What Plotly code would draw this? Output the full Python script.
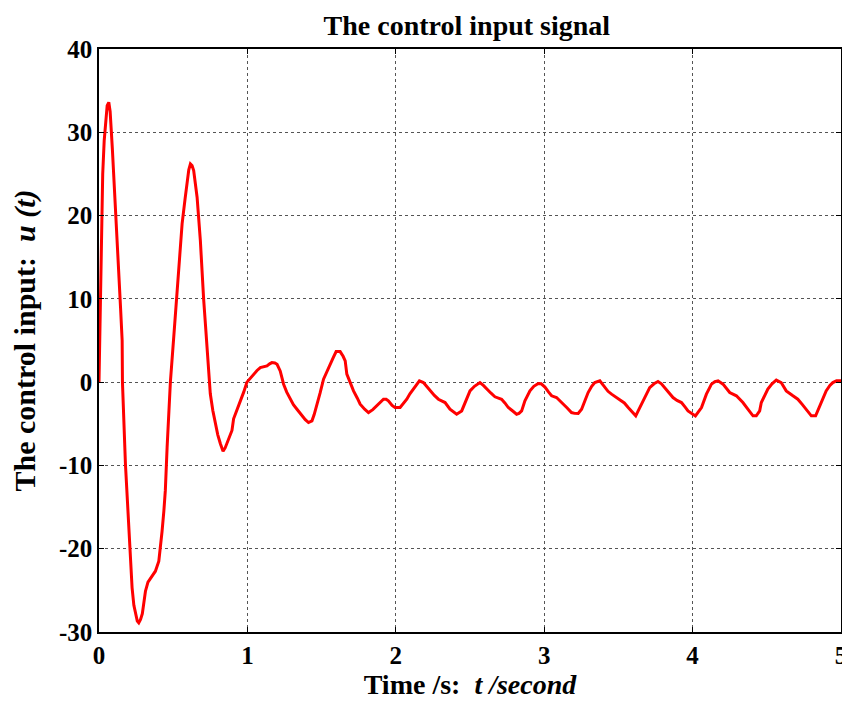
import plotly.graph_objects as go

t = [0.000, 0.005, 0.010, 0.017, 0.025, 0.035, 0.045, 0.055, 0.066, 0.075, 0.090, 0.112, 0.130, 0.145,
     0.156, 0.158, 0.178, 0.200, 0.212, 0.223, 0.235, 0.246, 0.258, 0.268, 0.280, 0.292, 0.302, 0.313,
     0.330, 0.347, 0.365, 0.380, 0.403, 0.415, 0.425, 0.437, 0.447, 0.459, 0.470, 0.481, 0.504, 0.520,
     0.537, 0.560, 0.580, 0.594, 0.605, 0.616, 0.627, 0.638, 0.650, 0.661, 0.683, 0.694, 0.705, 0.717,
     0.728, 0.739, 0.750, 0.767, 0.784, 0.800, 0.818, 0.836, 0.850, 0.862, 0.880, 0.896, 0.907, 0.925,
     0.941, 0.960, 0.975, 0.997, 1.020, 1.042, 1.065, 1.087, 1.110, 1.132, 1.150, 1.165, 1.185, 1.200,
     1.221, 1.244, 1.265, 1.289, 1.310, 1.334, 1.367, 1.390, 1.412, 1.435, 1.450, 1.468, 1.490, 1.513,
     1.535, 1.558, 1.580, 1.598, 1.625, 1.645, 1.659, 1.670, 1.690, 1.715, 1.740, 1.760, 1.790, 1.816,
     1.845, 1.872, 1.895, 1.917, 1.935, 1.950, 1.975, 1.995, 2.029, 2.050, 2.074, 2.095, 2.119, 2.140,
     2.159, 2.186, 2.210, 2.231, 2.260, 2.287, 2.310, 2.332, 2.365, 2.390, 2.410, 2.444, 2.470, 2.500,
     2.530, 2.567, 2.590, 2.612, 2.640, 2.668, 2.713, 2.735, 2.758, 2.790, 2.814, 2.830, 2.848, 2.870,
     2.904, 2.930, 2.960, 2.980, 3.005, 3.030, 3.050, 3.083, 3.105, 3.128, 3.155, 3.184, 3.205, 3.229,
     3.252, 3.275, 3.296, 3.320, 3.341, 3.375, 3.408, 3.430, 3.454, 3.480, 3.510, 3.540, 3.566, 3.592,
     3.617, 3.635, 3.655, 3.685, 3.711, 3.740, 3.767, 3.790, 3.812, 3.840, 3.868, 3.895, 3.925, 3.950,
     3.969, 4.019, 4.040, 4.060, 4.093, 4.127, 4.150, 4.172, 4.205, 4.230, 4.250, 4.295, 4.339, 4.375,
     4.407, 4.429, 4.452, 4.463, 4.485, 4.507, 4.535, 4.564, 4.597, 4.631, 4.676, 4.709, 4.740, 4.766,
     4.800, 4.829, 4.856, 4.900, 4.925, 4.945, 4.970, 5.000]

u = [0, 5, 12, 20, 25, 29, 31.5, 33.2, 33.6, 32.5, 28, 21, 14, 9,
     5, 0, -9.8, -16.5, -19.9, -24.7, -26.8, -27.9, -28.7, -28.9, -28.5, -27.8, -26.7, -25.1,
     -24.0, -23.5, -23.1, -22.7, -21.5, -19.8, -17.9, -15.5, -13, -7.8, -4, 0, 5.5, 9.5,
     13.4, 19, 22, 23.8, 25.5, 26.2, 26.0, 25.4, 24.0, 22.2, 17, 13, 10, 7,
     4, 1.4, -1.4, -3.4, -5, -6.3, -7.4, -8.3, -7.9, -7.4, -6.6, -5.8, -4.4, -3.6,
     -2.8, -1.9, -1.2, 0, 0.5, 1.0, 1.4, 1.75, 1.85, 1.95, 2.2, 2.35, 2.3, 2.15,
     1.35, -0.25, -1.2, -2.05, -2.7, -3.25, -4.05, -4.5, -4.85, -4.65, -3.9, -2.85, -1.3, 0.36,
     1.3, 2.15, 3.0, 3.67, 3.67, 3.1, 2.55, 0.96, 0.0, -1.05, -1.9, -2.65, -3.25, -3.65,
     -3.3, -2.85, -2.4, -2.05, -2.05, -2.25, -2.8, -3.05, -3.05, -2.6, -2.05, -1.4, -0.84, -0.3,
     0.16, -0.05, -0.6, -1.05, -1.6, -2.05, -2.3, -2.45, -3.25, -3.6, -3.85, -3.45, -2.3, -1.05,
     -0.5, -0.05, -0.4, -0.84, -1.3, -1.76, -2.05, -2.5, -3.05, -3.5, -3.85, -3.75, -3.45, -2.25,
     -1.05, -0.5, -0.17, -0.2, -0.6, -1.2, -1.64, -1.85, -2.2, -2.64, -3.1, -3.65, -3.75, -3.77,
     -3.25, -2.2, -1.25, -0.5, -0.05, 0.16, -0.65, -1.1, -1.44, -1.75, -2.05, -2.5, -3.05, -3.55,
     -4.05, -3.4, -2.64, -1.6, -0.65, -0.2, 0.07, -0.2, -0.65, -1.3, -1.85, -2.2, -2.45, -3.0,
     -3.45, -4.05, -3.6, -3.05, -1.44, -0.24, 0.05, 0.16, -0.24, -0.8, -1.25, -1.64, -2.45, -3.3,
     -4.05, -4.05, -3.45, -2.45, -1.6, -0.84, -0.2, 0.24, -0.05, -1.05, -1.64, -2.05, -2.7, -3.25,
     -4.05, -4.05, -2.85, -1.05, -0.4, -0.05, 0.16, 0.16]

x_ticks = [0, 1, 2, 3, 4, 5]
y_ticks = [-30, -20, -10, 0, 10, 20, 30, 40]

title_text = "The control input signal"
x_label = "Time /s:  <i>t /second</i>"
y_label = "The control input:  <i>u (t)</i>"

FONT = "Liberation Serif"

fig = go.Figure()
fig.add_trace(go.Scatter(x=t, y=u, mode="lines",
                         line=dict(color="#ff0000", width=3), showlegend=False))

axis_common = dict(
    showline=True, linecolor="black", linewidth=1.5, mirror="ticks",
    ticks="inside", ticklen=5, tickwidth=1, tickcolor="black",
    showgrid=True, gridcolor="#555555", gridwidth=1, griddash="dot",
    zeroline=False, automargin=False,
    tickfont=dict(family=FONT, size=25, color="black", weight="bold"),
)

fig.update_xaxes(range=[0, 5], tickvals=x_ticks, ticktext=[str(v) for v in x_ticks],
                 title=dict(text=x_label, font=dict(family=FONT, size=28, color="black", weight="bold"),
                            standoff=0),
                 **axis_common)
fig.update_yaxes(range=[-30, 40], tickvals=y_ticks, ticktext=[str(v) for v in y_ticks],
                 title=dict(text=y_label, font=dict(family=FONT, size=30, color="black", weight="bold"),
                            standoff=14),
                 **axis_common)

# the page body adds an 8px offset; size the figure so the plot area lands where the reference has it
fig.update_layout(
    width=842, height=698,
    margin=dict(l=91, r=9, t=41, b=74, autoexpand=False),
    paper_bgcolor="white", plot_bgcolor="white",
    title=dict(text=title_text, x=0.545, xanchor="center", y=0.99, yanchor="top",
               font=dict(family=FONT, size=28, color="black", weight="bold")),
)

fig.write_html("out.html")
